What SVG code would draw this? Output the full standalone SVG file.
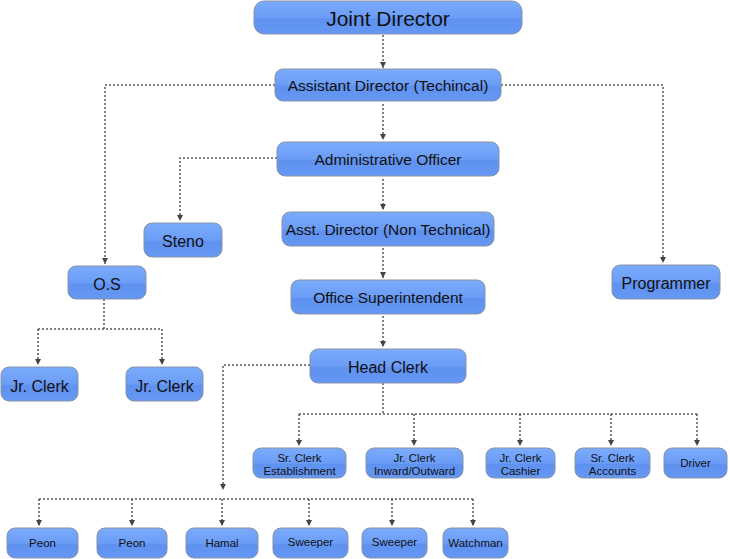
<svg xmlns="http://www.w3.org/2000/svg" width="730" height="559" viewBox="0 0 730 559">
<defs>
<linearGradient id="g" x1="0" y1="0" x2="0" y2="1">
<stop offset="0" stop-color="#7babfb"/>
<stop offset="0.5" stop-color="#6c9df7"/>
<stop offset="0.55" stop-color="#5f91f0"/>
<stop offset="1" stop-color="#6597f3"/>
</linearGradient>
<marker id="ah" markerWidth="7" markerHeight="7" refX="6" refY="3" orient="auto" markerUnits="userSpaceOnUse">
<path d="M0,0 L6,3 L0,6 z" fill="#444"/>
</marker>
<style>
.b{fill:url(#g);stroke:#8794a8;stroke-width:1}
.t{font-family:"Liberation Sans",Arial,sans-serif;fill:#111;text-anchor:middle}
.l{font-size:16px}
.m{font-size:15.5px}
.s{font-size:11.5px}
.c{fill:none;stroke:#555;stroke-width:1.5;stroke-dasharray:2,2}
.a{marker-end:url(#ah)}
</style>
</defs>
<rect width="730" height="559" fill="#fff"/>
<g id="connectors">
<path class="c a" d="M383,35 V68"/>
<path class="c a" d="M383,104 V140"/>
<path class="c a" d="M383,179 V210"/>
<path class="c a" d="M383,248 V278"/>
<path class="c a" d="M383,316 V347"/>
<path class="c a" d="M275,85 H105 V264"/>
<path class="c a" d="M501,85 H663 V263"/>
<path class="c a" d="M277,158 H180 V221"/>
<path class="c" d="M104,299 V329 M38,329 H162"/>
<path class="c a" d="M38,329 V365"/>
<path class="c a" d="M162,329 V365"/>
<path class="c" d="M383,383 V414 M299,414 H697"/>
<path class="c a" d="M299,414 V446"/>
<path class="c a" d="M414,414 V446"/>
<path class="c a" d="M520,414 V446"/>
<path class="c a" d="M611,414 V446"/>
<path class="c a" d="M697,414 V446"/>
<path class="c a" d="M310,365 H223 V490"/>
<path class="c" d="M39,499 H473"/>
<path class="c a" d="M39,499 V526"/>
<path class="c a" d="M132,499 V526"/>
<path class="c a" d="M222,499 V526"/>
<path class="c a" d="M309,499 V526"/>
<path class="c a" d="M392,499 V526"/>
<path class="c a" d="M473,499 V526"/>
</g>
<g id="joint-director"><rect class="b" x="254" y="1" width="268" height="33" rx="10"/><text class="t" x="388" y="25.5" font-size="21">Joint Director</text></g>
<g id="asst-director-tech"><rect class="b" x="275" y="69" width="226" height="32" rx="8"/><text class="t m" x="388" y="91">Assistant Director (Techincal)</text></g>
<g id="admin-officer"><rect class="b" x="277" y="142" width="222" height="34" rx="8"/><text class="t m" x="388" y="165">Administrative Officer</text></g>
<g id="asst-director-nontech"><rect class="b" x="282" y="212" width="212" height="34" rx="8"/><text class="t m" x="388" y="235">Asst. Director (Non Technical)</text></g>
<g id="office-supt"><rect class="b" x="291" y="280" width="194" height="34" rx="8"/><text class="t m" x="388" y="303">Office Superintendent</text></g>
<g id="head-clerk"><rect class="b" x="310" y="349" width="156" height="34" rx="8"/><text class="t l" x="388" y="372.5">Head Clerk</text></g>
<g id="steno"><rect class="b" x="144" y="223" width="78" height="34" rx="8"/><text class="t l" x="183" y="247">Steno</text></g>
<g id="os"><rect class="b" x="68" y="266" width="78" height="33" rx="8"/><text class="t l" x="107" y="289.5">O.S</text></g>
<g id="programmer"><rect class="b" x="612" y="265" width="108" height="34" rx="8"/><text class="t l" x="666" y="289">Programmer</text></g>
<g id="jr-clerk-1"><rect class="b" x="1" y="367" width="77" height="34" rx="8"/><text class="t l" x="39.5" y="391.5">Jr. Clerk</text></g>
<g id="jr-clerk-2"><rect class="b" x="126" y="367" width="77" height="34" rx="8"/><text class="t l" x="164.5" y="391.5">Jr. Clerk</text></g>
<g id="sr-clerk-est"><rect class="b" x="253" y="448" width="93" height="30" rx="8"/><text class="t s" x="299.5" y="461.5">Sr. Clerk</text><text class="t s" x="299.5" y="475">Establishment</text></g>
<g id="jr-clerk-io"><rect class="b" x="366" y="448" width="97" height="30" rx="8"/><text class="t s" x="414.5" y="461.5">Jr. Clerk</text><text class="t s" x="414.5" y="475">Inward/Outward</text></g>
<g id="jr-clerk-cashier"><rect class="b" x="486" y="448" width="69" height="30" rx="8"/><text class="t s" x="520.5" y="461.5">Jr. Clerk</text><text class="t s" x="520.5" y="475">Cashier</text></g>
<g id="sr-clerk-acc"><rect class="b" x="575" y="448" width="75" height="30" rx="8"/><text class="t s" x="612.5" y="461.5">Sr. Clerk</text><text class="t s" x="612.5" y="475">Accounts</text></g>
<g id="driver"><rect class="b" x="664" y="448" width="63" height="30" rx="8"/><text class="t s" x="695.5" y="467">Driver</text></g>
<g id="peon-1"><rect class="b" x="7" y="528" width="71" height="30" rx="8"/><text class="t s" x="42.5" y="547">Peon</text></g>
<g id="peon-2"><rect class="b" x="97" y="528" width="70" height="30" rx="8"/><text class="t s" x="132" y="547">Peon</text></g>
<g id="hamal"><rect class="b" x="186" y="528" width="72" height="30" rx="8"/><text class="t s" x="222" y="547">Hamal</text></g>
<g id="sweeper-1"><rect class="b" x="273" y="528" width="75" height="30" rx="8"/><text class="t s" x="310.5" y="546">Sweeper</text></g>
<g id="sweeper-2"><rect class="b" x="362" y="528" width="65" height="30" rx="8"/><text class="t s" x="394.5" y="546">Sweeper</text></g>
<g id="watchman"><rect class="b" x="443" y="528" width="65" height="30" rx="8"/><text class="t s" x="475.5" y="547">Watchman</text></g>
</svg>
